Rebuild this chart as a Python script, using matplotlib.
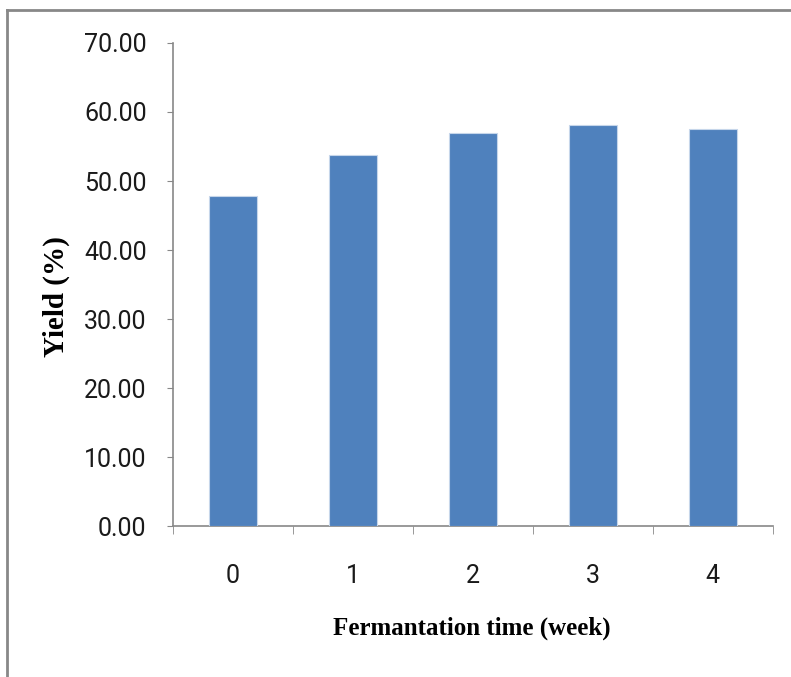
import matplotlib
matplotlib.use("Agg")
import matplotlib.pyplot as plt
from matplotlib.lines import Line2D

weeks = ["0", "1", "2", "3", "4"]
yield_pct = [47.8, 53.7, 57.0, 58.1, 57.6]
y_ticks = [0, 10, 20, 30, 40, 50, 60, 70]

fig = plt.figure(figsize=(7.91, 6.77), dpi=100)
ax = fig.add_axes([0.2187, 0.223, 0.758, 0.7135])

x = list(range(len(weeks)))
ax.bar(x, yield_pct, width=0.4, color="#4F81BD", edgecolor="#C6D6EA", linewidth=0.8, zorder=3)

ax.set_xlim(-0.5, len(weeks) - 0.5)
ax.set_ylim(0, 70)
ax.set_yticks(y_ticks)
ax.set_yticklabels([f"{v:.2f}" for v in y_ticks])

# category labels centered, tick marks at category boundaries
ax.set_xticks(x)
ax.set_xticklabels(weeks)
ax.set_xticks([i - 0.5 for i in range(len(weeks) + 1)], minor=True)
ax.tick_params(axis="x", which="major", length=0, pad=27, labelcolor="#1a1a1a")
ax.tick_params(axis="x", which="minor", length=6, color="#888888", direction="out")
ax.tick_params(axis="y", length=4, color="#888888", direction="out", pad=15, labelcolor="#1a1a1a")

for t in ax.get_xticklabels() + ax.get_yticklabels():
    t.set_fontfamily(["Roboto", "DejaVu Sans"])
    t.set_fontsize(18)

for s in ["top", "right"]:
    ax.spines[s].set_visible(False)
for s in ["left", "bottom"]:
    ax.spines[s].set_color("#888888")
    ax.spines[s].set_linewidth(1.2)

ax.set_ylabel("Yield (%)", fontfamily=["Liberation Serif"], fontweight="bold", fontsize=21, va="center")
ax.yaxis.set_label_coords(-0.195, 0.476)
ax.set_xlabel("Fermantation time (week)", fontfamily=["Liberation Serif"], fontweight="bold", fontsize=18, va="center")
ax.xaxis.set_label_coords(0.498, -0.211)

# figure border lines (top and left)
fig.add_artist(Line2D([0.009, 1.0], [1 - 10 / 677, 1 - 10 / 677], transform=fig.transFigure, color="#888888", linewidth=2))
fig.add_artist(Line2D([0.009, 0.009], [0.0, 1 - 10 / 677], transform=fig.transFigure, color="#888888", linewidth=2))

fig.savefig("out.png", dpi=100)
